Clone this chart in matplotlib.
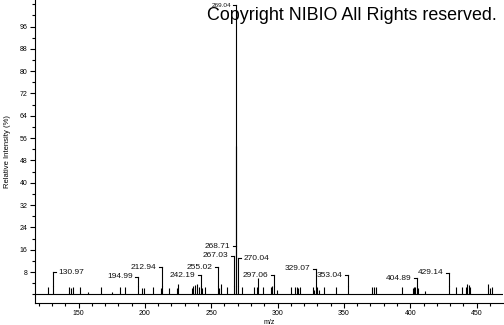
import matplotlib
matplotlib.use("Agg")
import matplotlib.pyplot as plt
from matplotlib.ticker import MultipleLocator, FixedLocator

plt.rcParams['font.family'] = ['Liberation Sans', 'DejaVu Sans']

# ---- data ----
peak_mz = [126.7, 130.97, 143.0, 144.1, 145.6, 151.1, 157.3, 167.1, 175.4, 181.2, 185.2,
           194.99, 197.6, 199.3, 206.3, 212.0, 212.94, 218.2, 224.0, 225.2, 235.3, 236.5,
           237.8, 239.5, 241.0, 242.19, 243.3, 245.3, 255.02, 256.1, 257.3, 262.1,
           267.03, 268.71, 269.04, 270.04, 273.4, 282.4, 284.7, 285.5, 288.8, 295.0,
           296.0, 297.06, 299.3, 310.1, 313.1, 314.4, 315.6, 316.9, 326.4, 327.4,
           329.07, 329.9, 331.0, 335.0, 343.8, 353.04, 371.4, 372.9, 373.9, 393.5,
           401.8, 402.6, 403.5, 404.89, 405.6, 411.1, 429.14, 434.4, 438.7, 442.0,
           443.0, 444.0, 445.0, 458.8, 460.1, 461.4]
peak_int = [2.7, 3.0, 2.7, 2.2, 2.7, 2.7, 0.7, 2.7, 1.0, 2.7, 2.7,
            3.0, 2.4, 2.2, 2.7, 2.2, 3.0, 2.4, 2.4, 3.7, 2.4, 3.1,
            3.3, 3.6, 2.8, 3.0, 2.4, 2.7, 3.0, 2.4, 3.7, 2.7,
            3.0, 53.0, 100.0, 3.0, 2.7, 2.7, 2.7, 5.7, 2.5, 2.5,
            3.0, 3.0, 1.5, 2.7, 2.7, 2.7, 2.1, 2.7, 2.7, 1.5,
            3.0, 2.7, 1.5, 2.7, 2.7, 3.0, 2.7, 2.7, 2.7, 2.7,
            2.1, 2.7, 2.7, 3.0, 2.1, 1.2, 3.0, 2.7, 2.7, 2.7,
            3.6, 3.2, 2.7, 3.8, 2.1, 2.7]

label_mz = [130.97, 194.99, 212.94, 242.19, 255.02, 267.03, 268.71, 269.04,
            270.04, 297.06, 329.07, 353.04, 404.89, 429.14]
label_level = [7.9, 6.3, 9.7, 6.8, 9.7, 13.8, 17.3, 103.7,
               12.9, 6.8, 9.2, 6.8, 5.7, 7.7]
label_side = ['r', 'l', 'l', 'l', 'l', 'l', 'l', 'l',
              'r', 'l', 'l', 'l', 'l', 'l']

x_major = [150, 200, 250, 300, 350, 400, 450]
y_major = [8, 16, 24, 32, 40, 48, 56, 64, 72, 80, 88, 96]

# ---- figure ----
W, H = 504, 325
fig = plt.figure(figsize=(W / 100, H / 100), dpi=100)
ax = fig.add_axes([35 / W, 22.3 / H, (503 - 35) / W, 302.7 / H])

ax.set_xlim(117.2, 469.9)
ax.set_ylim(-3.0, 105.5)

ax.axhline(0, color='black', lw=0.8, zorder=2)
ax.vlines(peak_mz, 0, peak_int, color='black', lw=0.8, zorder=3)

px = (469.9 - 117.2) / 468.0  # data units per pixel
height_of = dict(zip(peak_mz, peak_int))
for mz, lev, side in zip(label_mz, label_level, label_side):
    h = height_of.get(mz, 0)
    if lev > h:
        ax.plot([mz, mz], [h, lev], color='black', lw=0.8, zorder=3)
    sgn = 1 if side == 'r' else -1
    ax.plot([mz, mz + sgn * 3 * px], [lev, lev], color='black', lw=0.8, zorder=3)
    fs = 4.6 if lev > 100 else 6.0
    ax.text(mz + sgn * 5.5 * px, lev, f"{mz:.2f}", ha='left' if side == 'r' else 'right',
            va='center', fontsize=fs, color='#111111')

for s in ['top', 'right']:
    ax.spines[s].set_visible(False)
for s in ['left', 'bottom']:
    ax.spines[s].set_linewidth(0.8)

ax.xaxis.set_major_locator(FixedLocator(x_major))
ax.xaxis.set_minor_locator(MultipleLocator(10))
ax.yaxis.set_major_locator(FixedLocator(y_major))
ax.yaxis.set_minor_locator(MultipleLocator(4))
ax.tick_params(axis='both', which='major', direction='out', length=3.5, width=0.8,
               labelsize=5, pad=2)
ax.tick_params(axis='both', which='minor', direction='out', length=2.5, width=0.8)

ax.set_xlabel('m/z', fontsize=5, labelpad=1)
ax.set_ylabel('Relative Intensity (%)', fontsize=5.5, labelpad=6)

fig.text(207 / W, 1 - 20 / H, 'Copyright NIBIO All Rights reserved.', fontsize=12.9,
         ha='left', va='baseline', color='black')

fig.savefig('out.png', dpi=100)
